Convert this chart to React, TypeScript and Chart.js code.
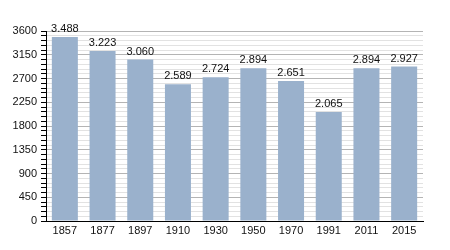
import React, { useEffect, useRef } from "react";
import { Chart, registerables } from "chart.js";

Chart.register(...registerables);

const years = ["1857", "1877", "1897", "1910", "1930", "1950", "1970", "1991", "2011", "2015"];
const population = [3488, 3223, 3060, 2589, 2724, 2894, 2651, 2065, 2894, 2927];
const yMax = 3600;
const majorStep = 450;
const minorStep = 90;

function fmt(n: number): string {
  return String(n).replace(/\B(?=(\d{3})+(?!\d))/g, ".");
}

const valueLabels = {
  id: "valueLabels",
  afterDatasetsDraw(chart: any) {
    const ctx = chart.ctx;
    const meta = chart.getDatasetMeta(0);
    ctx.save();
    ctx.font = "11px 'Liberation Sans', Arial, sans-serif";
    ctx.fillStyle = "#111";
    ctx.textAlign = "center";
    ctx.textBaseline = "alphabetic";
    meta.data.forEach((el: any, i: number) => {
      ctx.fillText(fmt(population[i]), el.x, el.y - 5);
    });
    ctx.restore();
  },
};

export default function App() {
  const ref = useRef<HTMLCanvasElement>(null);
  useEffect(() => {
    document.body.style.margin = "0";
    const chart = new Chart(ref.current!, {
      type: "bar",
      data: {
        labels: years,
        datasets: [
          {
            data: population,
            backgroundColor: "#9ab1cc",
            borderWidth: 0,
            barPercentage: 0.69,
            categoryPercentage: 1,
          },
        ],
      },
      options: {
        animation: false,
        responsive: false,
        maintainAspectRatio: false,
        layout: { padding: { left: 0, top: 31, right: 27, bottom: 0 } },
        plugins: { legend: { display: false }, tooltip: { enabled: false } },
        scales: {
          x: {
            grid: { display: false, drawTicks: false },
            border: { display: true, color: "#000", width: 1 },
            ticks: {
              color: "#111",
              font: { family: "'Liberation Sans', Arial, sans-serif", size: 11 },
              padding: 3,
              maxRotation: 0,
            },
            afterFit: (s: any) => {
              s.height = 29;
            },
          },
          y: {
            min: 0,
            max: yMax,
            afterFit: (s: any) => {
              s.width = 46;
            },
            border: { display: true, color: "#000", width: 1 },
            grid: {
              color: (c: any) =>
                c.tick && c.tick.value % majorStep === 0 ? "#b4b4b4" : "#e2e2e2",
              tickColor: "#000",
              tickLength: 5,
              drawTicks: true,
            },
            ticks: {
              stepSize: minorStep,
              maxTicksLimit: 100,
              autoSkip: false,
              padding: 4,
              color: "#111",
              font: { family: "'Liberation Sans', Arial, sans-serif", size: 11 },
              callback: (v: any) => (Number(v) % majorStep === 0 ? String(v) : ""),
            },
          },
        },
      },
      plugins: [valueLabels],
    });
    return () => chart.destroy();
  }, []);
  return (
    <div style={{ position: "absolute", left: 0, top: 0, width: 450, height: 250 }}>
      <canvas ref={ref} width={450} height={250} />
    </div>
  );
}
